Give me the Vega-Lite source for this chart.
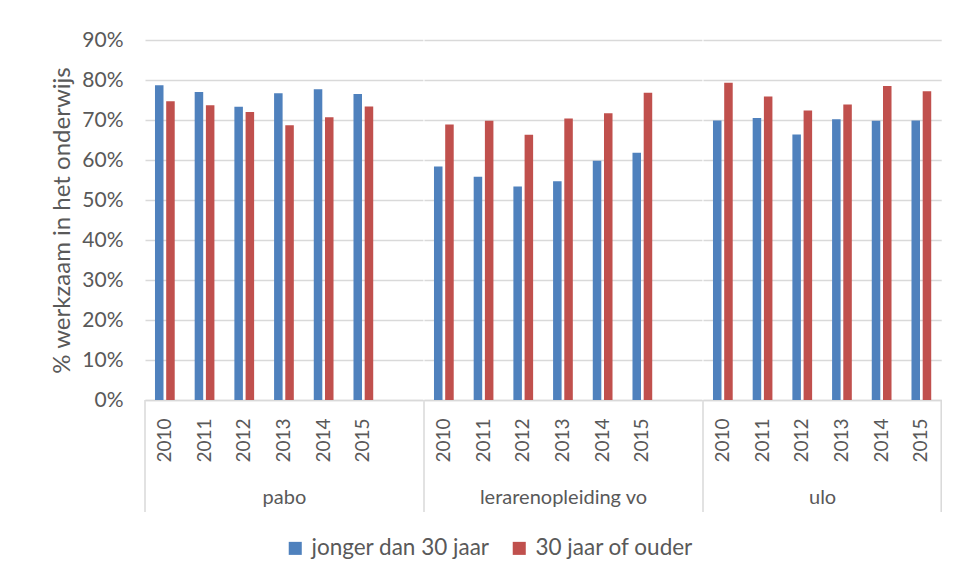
{
  "$schema": "https://vega.github.io/schema/vega-lite/v6.json",
  "padding": {"left": 50, "top": 29, "right": 5, "bottom": 5},
  "background": "white",
  "datasets": {
    "bars": [
      {"group": "pabo", "year": "2010", "series": "jonger dan 30 jaar", "value": 0.787},
      {"group": "pabo", "year": "2011", "series": "jonger dan 30 jaar", "value": 0.770},
      {"group": "pabo", "year": "2012", "series": "jonger dan 30 jaar", "value": 0.733},
      {"group": "pabo", "year": "2013", "series": "jonger dan 30 jaar", "value": 0.767},
      {"group": "pabo", "year": "2014", "series": "jonger dan 30 jaar", "value": 0.777},
      {"group": "pabo", "year": "2015", "series": "jonger dan 30 jaar", "value": 0.765},
      {"group": "pabo", "year": "2010", "series": "30 jaar of ouder", "value": 0.747},
      {"group": "pabo", "year": "2011", "series": "30 jaar of ouder", "value": 0.737},
      {"group": "pabo", "year": "2012", "series": "30 jaar of ouder", "value": 0.720},
      {"group": "pabo", "year": "2013", "series": "30 jaar of ouder", "value": 0.687},
      {"group": "pabo", "year": "2014", "series": "30 jaar of ouder", "value": 0.707},
      {"group": "pabo", "year": "2015", "series": "30 jaar of ouder", "value": 0.734},
      {"group": "lerarenopleiding vo", "year": "2010", "series": "jonger dan 30 jaar", "value": 0.584},
      {"group": "lerarenopleiding vo", "year": "2011", "series": "jonger dan 30 jaar", "value": 0.558},
      {"group": "lerarenopleiding vo", "year": "2012", "series": "jonger dan 30 jaar", "value": 0.534},
      {"group": "lerarenopleiding vo", "year": "2013", "series": "jonger dan 30 jaar", "value": 0.547},
      {"group": "lerarenopleiding vo", "year": "2014", "series": "jonger dan 30 jaar", "value": 0.598},
      {"group": "lerarenopleiding vo", "year": "2015", "series": "jonger dan 30 jaar", "value": 0.618},
      {"group": "lerarenopleiding vo", "year": "2010", "series": "30 jaar of ouder", "value": 0.689},
      {"group": "lerarenopleiding vo", "year": "2011", "series": "30 jaar of ouder", "value": 0.698},
      {"group": "lerarenopleiding vo", "year": "2012", "series": "30 jaar of ouder", "value": 0.663},
      {"group": "lerarenopleiding vo", "year": "2013", "series": "30 jaar of ouder", "value": 0.704},
      {"group": "lerarenopleiding vo", "year": "2014", "series": "30 jaar of ouder", "value": 0.717},
      {"group": "lerarenopleiding vo", "year": "2015", "series": "30 jaar of ouder", "value": 0.768},
      {"group": "ulo", "year": "2010", "series": "jonger dan 30 jaar", "value": 0.699},
      {"group": "ulo", "year": "2011", "series": "jonger dan 30 jaar", "value": 0.705},
      {"group": "ulo", "year": "2012", "series": "jonger dan 30 jaar", "value": 0.664},
      {"group": "ulo", "year": "2013", "series": "jonger dan 30 jaar", "value": 0.702},
      {"group": "ulo", "year": "2014", "series": "jonger dan 30 jaar", "value": 0.698},
      {"group": "ulo", "year": "2015", "series": "jonger dan 30 jaar", "value": 0.699},
      {"group": "ulo", "year": "2010", "series": "30 jaar of ouder", "value": 0.793},
      {"group": "ulo", "year": "2011", "series": "30 jaar of ouder", "value": 0.759},
      {"group": "ulo", "year": "2012", "series": "30 jaar of ouder", "value": 0.724},
      {"group": "ulo", "year": "2013", "series": "30 jaar of ouder", "value": 0.739},
      {"group": "ulo", "year": "2014", "series": "30 jaar of ouder", "value": 0.785},
      {"group": "ulo", "year": "2015", "series": "30 jaar of ouder", "value": 0.772}
    ]
  },
  "spacing": 0,
  "hconcat": [
    {
      "width": 277.9,
      "height": 360,
      "layer": [
        {
          "data": {"name": "bars"},
          "transform": [{"filter": "datum.group === 'pabo'"}],
          "mark": {"type": "bar"},
          "encoding": {
            "x": {"field": "year", "type": "nominal", "scale": {"domain": ["2010", "2011", "2012", "2013", "2014", "2015", ""], "paddingInner": 0, "paddingOuter": 0}, "axis": {"title": "pabo"}},
            "xOffset": {"field": "series", "type": "nominal", "scale": {"domain": ["jonger dan 30 jaar", "30 jaar of ouder"], "paddingInner": 0.24, "paddingOuter": 0.89}},
            "y": {"field": "value", "type": "quantitative", "scale": {"domain": [0, 0.9]}, "axis": {"title": "% werkzaam in het onderwijs", "format": ".0%", "values": [0, 0.1, 0.2, 0.3, 0.4, 0.5, 0.6, 0.7, 0.8, 0.9], "labelOverlap": false, "grid": true, "domain": false, "ticks": false, "labelPadding": 22, "titlePadding": 7}},
            "color": {"field": "series", "type": "nominal", "scale": {"domain": ["jonger dan 30 jaar", "30 jaar of ouder"], "range": ["#4F81BD", "#C0504D"]}, "legend": {"title": null, "orient": "none", "direction": "horizontal", "legendX": 139, "legendY": 497, "symbolType": "square", "symbolSize": 170, "symbolStrokeWidth": 0, "labelFontSize": 22.5, "labelColor": "#595959", "labelFont": "Lato", "labelLimit": 0, "columnPadding": 18, "labelOffset": 5}}
          }
        },
        {
          "data": {"values": [{}]},
          "mark": {"type": "rule", "color": "#D9D9D9", "strokeWidth": 1.5},
          "encoding": {
            "x": {"datum": "2010", "bandPosition": 0},
            "y": {"datum": 0, "type": "quantitative", "axis": {"title": "% werkzaam in het onderwijs", "format": ".0%", "values": [0, 0.1, 0.2, 0.3, 0.4, 0.5, 0.6, 0.7, 0.8, 0.9], "labelOverlap": false, "grid": true, "domain": false, "ticks": false, "labelPadding": 22, "titlePadding": 7}},
            "y2": {"datum": -0.28}
          }
        }
      ]
    },
    {
      "width": 277.9,
      "height": 360,
      "layer": [
        {
          "data": {"name": "bars"},
          "transform": [{"filter": "datum.group === 'lerarenopleiding vo'"}],
          "mark": {"type": "bar"},
          "encoding": {
            "x": {"field": "year", "type": "nominal", "scale": {"domain": ["2010", "2011", "2012", "2013", "2014", "2015", ""], "paddingInner": 0, "paddingOuter": 0}, "axis": {"title": "lerarenopleiding vo"}},
            "xOffset": {"field": "series", "type": "nominal", "scale": {"domain": ["jonger dan 30 jaar", "30 jaar of ouder"], "paddingInner": 0.24, "paddingOuter": 0.89}},
            "y": {"field": "value", "type": "quantitative", "scale": {"domain": [0, 0.9]}, "axis": {"title": null, "labels": false, "values": [0, 0.1, 0.2, 0.3, 0.4, 0.5, 0.6, 0.7, 0.8, 0.9], "grid": true, "domain": false, "ticks": false, "minExtent": 0, "maxExtent": 0}},
            "color": {"field": "series", "type": "nominal", "scale": {"domain": ["jonger dan 30 jaar", "30 jaar of ouder"], "range": ["#4F81BD", "#C0504D"]}}
          }
        },
        {
          "data": {"values": [{}]},
          "mark": {"type": "rule", "color": "#D9D9D9", "strokeWidth": 1.5},
          "encoding": {
            "x": {"datum": "2010", "bandPosition": 0},
            "y": {"datum": 0, "type": "quantitative", "axis": {"title": null, "labels": false, "values": [0, 0.1, 0.2, 0.3, 0.4, 0.5, 0.6, 0.7, 0.8, 0.9], "grid": true, "domain": false, "ticks": false, "minExtent": 0, "maxExtent": 0}},
            "y2": {"datum": -0.28}
          }
        }
      ]
    },
    {
      "width": 238.2,
      "height": 360,
      "layer": [
        {
          "data": {"name": "bars"},
          "transform": [{"filter": "datum.group === 'ulo'"}],
          "mark": {"type": "bar"},
          "encoding": {
            "x": {"field": "year", "type": "nominal", "scale": {"domain": ["2010", "2011", "2012", "2013", "2014", "2015"], "paddingInner": 0, "paddingOuter": 0}, "axis": {"title": "ulo"}},
            "xOffset": {"field": "series", "type": "nominal", "scale": {"domain": ["jonger dan 30 jaar", "30 jaar of ouder"], "paddingInner": 0.24, "paddingOuter": 0.89}},
            "y": {"field": "value", "type": "quantitative", "scale": {"domain": [0, 0.9]}, "axis": {"title": null, "labels": false, "values": [0, 0.1, 0.2, 0.3, 0.4, 0.5, 0.6, 0.7, 0.8, 0.9], "grid": true, "domain": false, "ticks": false, "minExtent": 0, "maxExtent": 0}},
            "color": {"field": "series", "type": "nominal", "scale": {"domain": ["jonger dan 30 jaar", "30 jaar of ouder"], "range": ["#4F81BD", "#C0504D"]}}
          }
        },
        {
          "data": {"values": [{}]},
          "mark": {"type": "rule", "color": "#D9D9D9", "strokeWidth": 1.5},
          "encoding": {
            "x": {"datum": "2010", "bandPosition": 0},
            "y": {"datum": 0, "type": "quantitative", "axis": {"title": null, "labels": false, "values": [0, 0.1, 0.2, 0.3, 0.4, 0.5, 0.6, 0.7, 0.8, 0.9], "grid": true, "domain": false, "ticks": false, "minExtent": 0, "maxExtent": 0}},
            "y2": {"datum": -0.28}
          }
        },
        {
          "data": {"values": [{}]},
          "mark": {"type": "rule", "color": "#D9D9D9", "strokeWidth": 1.5},
          "encoding": {
            "x": {"datum": "2015", "bandPosition": 1},
            "y": {"datum": 0, "type": "quantitative", "axis": {"title": null, "labels": false, "values": [0, 0.1, 0.2, 0.3, 0.4, 0.5, 0.6, 0.7, 0.8, 0.9], "grid": true, "domain": false, "ticks": false, "minExtent": 0, "maxExtent": 0}},
            "y2": {"datum": -0.28}
          }
        }
      ]
    }
  ],
  "resolve": {"scale": {"x": "independent", "xOffset": "independent", "y": "shared", "color": "shared"}},
  "config": {
    "font": "Lato",
    "view": {"stroke": null},
    "axis": {"labelFont": "Lato", "titleFont": "Lato", "labelColor": "#595959", "titleColor": "#595959", "gridColor": "#D9D9D9", "gridWidth": 1.5, "domainColor": "#D9D9D9", "domainWidth": 1.5, "labelFontSize": 19, "titleFontSize": 20, "titleFontWeight": "normal"},
    "axisX": {"labelAngle": 270, "labelPadding": 18, "ticks": false, "titlePadding": 25, "grid": false},
    "axisY": {"labelFontSize": 21, "titleFontSize": 24}
  }
}
